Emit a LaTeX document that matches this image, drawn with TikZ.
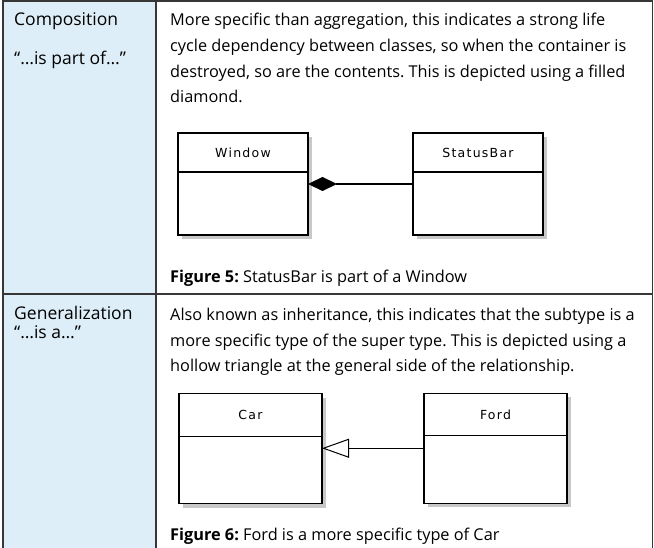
\documentclass[tikz,border=0pt]{standalone}
\usepackage{fontspec}
\setmainfont{Open Sans}
\newfontfamily\umlfont[LetterSpace=10]{DejaVu Sans}
\usetikzlibrary{arrows.meta, positioning, shadows}
\frenchspacing

\definecolor{labelblue}{RGB}{221,238,248}
\definecolor{rulegray}{RGB}{55,55,55}
\definecolor{shadowgray}{RGB}{200,200,200}

\tikzset{
  rule/.style={draw=rulegray, line width=1.4pt},
  classbox/.style={draw, fill=white, line width=1.3pt, outer sep=0pt, inner sep=0pt,
    drop shadow={shadow xshift=4pt, shadow yshift=-4pt, fill=shadowgray, opacity=1}},
  classhead/.style={classbox, font=\umlfont\fontsize{12.5}{14}\selectfont},
  bodytext/.style={anchor=base west, inner sep=0pt, align=left,
    font=\fontsize{16.3}{25.6}\selectfont},
  labeltext/.style={anchor=base west, inner sep=0pt,
    font=\fontsize{17.5}{20}\selectfont},
  comp/.style={line width=1.3pt, -{Diamond[length=29pt, width=14pt, fill=black]}},
  gen/.style={line width=1.3pt, -{Triangle[open, length=27pt, width=19pt, fill=white, line width=1pt]}}
}

\begin{document}
\begin{tikzpicture}[x=1pt, y=-1pt]
\useasboundingbox (0,0) rectangle (654,548);

% table
\fill[labelblue] (3,1) rectangle (156,548);
\draw[rule] (3,548) -- (3,1) -- (652.5,1) -- (652.5,548);
\draw[rule] (156,1) -- (156,548);
\draw[rule] (3,294) -- (652.5,294);

% left column
\node[labeltext] (compname) at (14,26) {Composition};
\node[labeltext] (compsay) at (14,65) {“…is part of…”};
\node[labeltext] (genname) at (14,320) {Generalization};
\node[labeltext] (gensay) at (14,339) {“…is a…”};

% composition (base = last line)
\node[bodytext] (comptext) at (170,102.8) {More specific than aggregation, this indicates a strong life\\
cycle dependency between classes, so when the container is\\
destroyed, so are the contents. This is depicted using a filled\\
diamond.};

\node[classhead, minimum width=130pt, minimum height=39pt] (window) at (243,152.5) {Window};
\node[classbox, minimum width=130pt, minimum height=63pt, below=0pt of window] (windowbody) {};
\node[classhead, minimum width=130pt, minimum height=39pt] (statusbar) at (478,152.5) {StatusBar};
\node[classbox, minimum width=130pt, minimum height=63pt, below=0pt of statusbar] (statusbarbody) {};
\draw[comp] ([yshift=-12pt]statusbarbody.north west) -- ([yshift=-12pt]windowbody.north east);

\node[bodytext] (fig5) at (170,283) {\textbf{Figure 5:} StatusBar is part of a Window};

% generalization
\node[bodytext] (gentext) at (170,371.7) {Also known as inheritance, this indicates that the subtype is a\\
more specific type of the super type. This is depicted using a\\
hollow triangle at the general side of the relationship.};

\node[classhead, minimum width=143pt, minimum height=42.5pt] (car) at (250.5,415) {Car};
\node[classbox, minimum width=143pt, minimum height=67.5pt, below=0pt of car] (carbody) {};
\node[classhead, minimum width=143pt, minimum height=42.5pt] (ford) at (495.5,414.5) {Ford};
\node[classbox, minimum width=143pt, minimum height=67.5pt, below=0pt of ford] (fordbody) {};
\draw[gen] ([yshift=-12.5pt]fordbody.north west) -- ([yshift=-12pt]carbody.north east);

\node[bodytext] (fig6) at (170,540) {\textbf{Figure 6:} Ford is a more specific type of Car};
\end{tikzpicture}
\end{document}
